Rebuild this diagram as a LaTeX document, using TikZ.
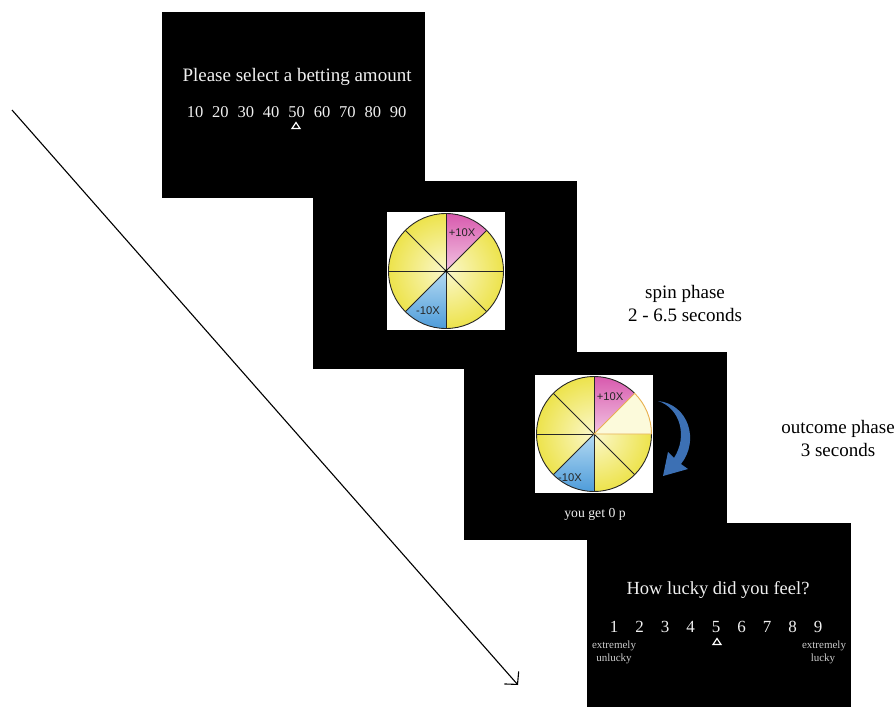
\documentclass[tikz,border=0pt]{standalone}
\usepackage{fontspec}
\setmainfont{Liberation Serif}
\newfontfamily\labelsans{Liberation Sans}
\usetikzlibrary{arrows.meta}
\definecolor{yelpale}{HTML}{FBF8CC}
\definecolor{yeldark}{HTML}{EDE34C}
\definecolor{pinkdark}{HTML}{D85AAE}
\definecolor{pinkpale}{HTML}{F2C4E2}
\definecolor{bluedark}{HTML}{4E9CDA}
\definecolor{bluepale}{HTML}{B4DAF2}
\definecolor{hiline}{HTML}{E8B050}
\definecolor{spinblue}{HTML}{3C70B4}
\definecolor{screentext}{HTML}{F0F0F0}
\tikzset{
  screen/.style={fill=black, draw=none},
  bigtext/.style={text=screentext, font=\fontsize{19}{21}\selectfont, inner sep=0pt, anchor=base},
  numtext/.style={text=screentext, font=\fontsize{16.5}{18}\selectfont, inner sep=0pt, anchor=base},
  smalltext/.style={text=screentext!85!black, font=\fontsize{11}{12}\selectfont, inner sep=0pt, anchor=base},
  phasetext/.style={text=black, font=\fontsize{19}{21}\selectfont, inner sep=0pt, anchor=base},
  wheeltext/.style={text=black!85, font=\labelsans\fontsize{11.2}{12}\selectfont, inner sep=0pt},
  wheelline/.style={draw=black!85, line width=0.9pt},
  marker/.style={draw=white, line width=1.2pt, line join=miter},
}
\newcommand{\wheelbody}{%
  \fill[white] (-59,-59) rectangle (59,59);
  \shade[inner color=yelpale, outer color=yeldark] (0,0) circle (57.5);
  \shade[shading angle=135, top color=pinkdark, bottom color=pinkpale] (0,0) -- (90:57.5) arc (90:45:57.5) -- cycle;
  \shade[shading angle=-45, top color=bluepale, bottom color=bluedark] (0,0) -- (270:57.5) arc (270:225:57.5) -- cycle;
}
\begin{document}
\begin{tikzpicture}[x=1pt,y=-1pt]
\useasboundingbox[fill=white] (0,0) rectangle (895,707);
% screens
\fill[screen] (162,12) rectangle (425,198);
\fill[screen] (313,181) rectangle (577,369);
\fill[screen] (464,352) rectangle (727,540);
\fill[screen] (587,523) rectangle (851,707);

% panel 1
\node[bigtext] (title1) at (297,81.5) {Please select a betting amount};
\foreach \n [count=\i from 0] in {10,20,30,40,50,60,70,80,90}
  \node[numtext] (bet\n) at (195+25.4*\i,117.5) {\n};
\draw[marker] (296,122.5) -- (300,128.5) -- (292,128.5) -- cycle;

% panel 2 wheel
\begin{scope}[shift={(446,271)}, yscale=-1]
  \wheelbody
  \foreach \a in {0,45,90,135}
    \draw[wheelline] (\a:57.5) -- (\a+180:57.5);
  \draw[wheelline] (0,0) circle (57.5);
  \fill[black] (0,0) circle (1.6);
  \node[wheeltext] (plusA) at (16,38) {+10X};
  \node[wheeltext] (minusA) at (-18,-40) {-10X};
\end{scope}

% spin phase label
\node[phasetext] (spin1) at (685,298) {spin phase};
\node[phasetext] (spin2) at (685,321) {2 - 6.5 seconds};

% panel 3 wheel
\begin{scope}[shift={(594,434)}, yscale=-1]
  \wheelbody
  \fill[yelpale!70!white] (0,0) -- (0:57.5) arc (0:45:57.5) -- cycle;
  \foreach \a in {90,135,180,225,270,315}
    \draw[wheelline] (0,0) -- (\a:57.5);
  \draw[wheelline] (45:57.5) arc (45:360:57.5);
  \draw[draw=hiline, line width=0.9pt] (0:57.5) -- (0,0) -- (45:57.5) arc (45:0:57.5);
  \node[wheeltext] (plusB) at (16,37) {+10X};
  \node[wheeltext] (minusB) at (-24,-44) {-10X};
\end{scope}
\fill[spinblue] (658,401)
  .. controls (688,404) and (700,440) .. (681,464)
  -- (688,469) -- (663,476) -- (668,452) -- (674,458)
  .. controls (688,436) and (680,408) .. (658,401) -- cycle;
\node[numtext, font=\fontsize{13.7}{15}\selectfont] (outcome) at (595,517) {you get 0 p};

% outcome phase label
\node[phasetext] (out1) at (838,433) {outcome phase};
\node[phasetext] (out2) at (838,456) {3 seconds};

% panel 4
\node[bigtext, font=\fontsize{18.5}{20}\selectfont] (title4) at (718,594) {How lucky did you feel?};
\foreach \n [count=\i from 0] in {1,...,9}
  \node[numtext, font=\fontsize{17}{18}\selectfont] (luck\n) at (614+25.5*\i,632.5) {\n};
\draw[marker] (717,638.5) -- (721,644.5) -- (713,644.5) -- cycle;
\node[smalltext] (lowA) at (614,648.5) {extremely};
\node[smalltext] (lowB) at (614,661) {unlucky};
\node[smalltext] (highA) at (824,648.5) {extremely};
\node[smalltext] (highB) at (823,661) {lucky};

% time arrow
\coordinate (tstart) at (12,110);
\coordinate (tend) at (518,685);
\draw[line width=1.1pt, -{Straight Barb[length=9pt,width=19pt,line width=1.1pt]}] (tstart) -- (tend);
\end{tikzpicture}
\end{document}
